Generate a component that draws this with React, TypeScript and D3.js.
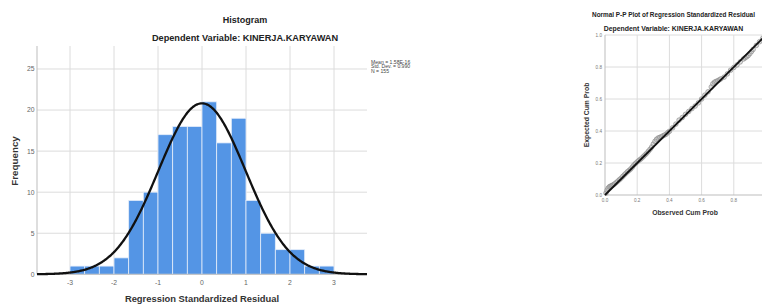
import React from "react";
import * as d3 from "d3";

// ---------- Histogram data ----------
const binStart = -3;
const binWidth = 1 / 3;
const counts = [1, 1, 1, 2, 9, 10, 17, 18, 18, 21, 16, 19, 9, 5, 3, 3, 1, 1];
const meanVal = 1.58e-16;
const sdVal = 0.99;
const nVal = 155;
const histYTicks = [0, 5, 10, 15, 20, 25];
const histXTicks = [-3, -2, -1, 0, 1, 2, 3];
const legendLines = ["Mean = 1.58E-16", "Std. Dev. = 0.990", "N = 155"];

// ---------- P-P plot data ----------
const observed = [
  0.006, 0.013, 0.019, 0.026, 0.032, 0.039, 0.045, 0.052, 0.06, 0.07, 0.08, 0.09, 0.1, 0.11, 0.12, 0.13,
  0.14, 0.15, 0.16, 0.17, 0.18, 0.19, 0.2, 0.21, 0.22, 0.23, 0.24, 0.25, 0.26, 0.27, 0.28, 0.29, 0.3,
  0.31, 0.32, 0.33, 0.34, 0.35, 0.36, 0.37, 0.38, 0.39, 0.4, 0.42, 0.44, 0.46, 0.48, 0.5, 0.52, 0.54,
  0.56, 0.58, 0.6, 0.62, 0.64, 0.66, 0.67, 0.68, 0.69, 0.7, 0.71, 0.72, 0.74, 0.76, 0.78, 0.8, 0.82,
  0.84, 0.86, 0.87, 0.88, 0.89, 0.9, 0.91, 0.92, 0.94, 0.96, 0.98, 0.994,
];
const expected = [
  0.012, 0.03, 0.042, 0.05, 0.054, 0.057, 0.06, 0.064, 0.07, 0.078, 0.087, 0.096, 0.105, 0.116, 0.126, 0.136,
  0.146, 0.154, 0.163, 0.175, 0.188, 0.198, 0.207, 0.216, 0.223, 0.232, 0.242, 0.252, 0.262, 0.274, 0.286, 0.3, 0.318,
  0.335, 0.348, 0.356, 0.36, 0.364, 0.37, 0.375, 0.38, 0.39, 0.398, 0.42, 0.443, 0.468, 0.484, 0.504, 0.522, 0.54,
  0.556, 0.576, 0.6, 0.624, 0.645, 0.675, 0.695, 0.705, 0.71, 0.714, 0.72, 0.726, 0.737, 0.757, 0.78, 0.797, 0.813,
  0.832, 0.85, 0.857, 0.864, 0.872, 0.884, 0.897, 0.91, 0.935, 0.958, 0.98, 0.995,
];
const ppYTicks = [0, 0.2, 0.4, 0.6, 0.8, 1.0];
const ppXTickLabels = [0, 0.2, 0.4, 0.6, 0.8];

const FONT = "'Liberation Sans', Arial, Helvetica, sans-serif";
const BAR = "#5495e5";
const GRID = "#dcdcdc";

export default function App() {
  // Histogram scales
  const hx = d3.scaleLinear().domain([-3.75, 3.75]).range([37, 367]);
  const hy = d3.scaleLinear().domain([0, 27.8]).range([274.3, 46]);

  const normalPdf = (x: number) =>
    (nVal * binWidth) / (sdVal * Math.sqrt(2 * Math.PI)) * Math.exp(-0.5 * ((x - meanVal) / sdVal) ** 2);
  const curveXs = d3.range(-3.75, 3.7501, 0.02);
  const curve = d3
    .line<number>()
    .x((d) => hx(d))
    .y((d) => hy(normalPdf(d)))
    .curve(d3.curveBasis)(curveXs) as string;

  // PP scales
  const px = d3.scaleLinear().domain([0, 1]).range([605, 766]);
  const py = d3.scaleLinear().domain([0, 1]).range([195, 35]);

  return (
    <svg
      width={762}
      height={305}
      style={{ position: "absolute", left: 0, top: 0, display: "block", background: "#fff" }}
      fontFamily={FONT}
    >
      <rect x={0} y={0} width={762} height={305} fill="#fff" />
      {/* ---------- Histogram ---------- */}
      <text x={245} y={23} textAnchor="middle" fontSize={9} fontWeight="bold" fill="#222">
        Histogram
      </text>
      <text x={245} y={41} textAnchor="middle" fontSize={9.2} fontWeight="bold" fill="#222">
        Dependent Variable: KINERJA.KARYAWAN
      </text>

      {/* grid */}
      {histYTicks.filter((t) => t > 0).map((t) => (
        <line key={"hy" + t} x1={hx(-3.75)} x2={hx(3.75)} y1={hy(t)} y2={hy(t)} stroke={GRID} strokeWidth={1} />
      ))}
      {histXTicks.map((t) => (
        <line key={"hx" + t} x1={hx(t)} x2={hx(t)} y1={hy(27.8)} y2={hy(0)} stroke={GRID} strokeWidth={1} />
      ))}

      {/* bars */}
      {counts.map((c, i) => {
        const x0 = binStart + i * binWidth;
        return (
          <rect
            key={"b" + i}
            x={hx(x0)}
            y={hy(c)}
            width={hx(x0 + binWidth) - hx(x0)}
            height={hy(0) - hy(c)}
            fill={BAR}
            stroke="#e6eefa"
            strokeWidth={0.8}
          />
        );
      })}

      {/* axes */}
      <line x1={hx(-3.75)} x2={hx(-3.75)} y1={hy(27.8)} y2={hy(0)} stroke="#bdbdbd" strokeWidth={1} />
      <line x1={hx(-3.75)} x2={hx(3.75)} y1={hy(0)} y2={hy(0)} stroke="#bdbdbd" strokeWidth={1} />

      {/* curve */}
      <path d={curve} fill="none" stroke="#111" strokeWidth={2.3} />

      {/* tick labels */}
      {histYTicks.map((t) => (
        <text key={"hyl" + t} x={34.5} y={hy(t) + 2.4} textAnchor="end" fontSize={6.8} fill="#666">
          {t}
        </text>
      ))}
      {histXTicks.map((t) => (
        <text key={"hxl" + t} x={hx(t)} y={284.5} textAnchor="middle" fontSize={6.8} fill="#666">
          {t}
        </text>
      ))}

      {/* axis titles */}
      <text x={202} y={302} textAnchor="middle" fontSize={9.4} fontWeight="bold" fill="#333">
        Regression Standardized Residual
      </text>
      <text
        transform={`translate(18,${hy(13.8)}) rotate(-90)`}
        textAnchor="middle"
        fontSize={9.8}
        fontWeight="bold"
        fill="#333"
      >
        Frequency
      </text>

      {/* legend */}
      {legendLines.map((l, i) => (
        <text key={"lg" + i} x={371} y={63.5 + i * 4.6} fontSize={5.1} fill="#444">
          {l}
        </text>
      ))}

      {/* ---------- P-P plot ---------- */}
      <text x={673.5} y={17} textAnchor="middle" fontSize={6.4} fontWeight="bold" fill="#222">
        Normal P-P Plot of Regression Standardized Residual
      </text>
      <text x={673.5} y={31} textAnchor="middle" fontSize={6.9} fontWeight="bold" fill="#222">
        Dependent Variable: KINERJA.KARYAWAN
      </text>

      {ppYTicks.filter((t) => t > 0).map((t) => (
        <line key={"ph" + t} x1={px(0)} x2={px(1)} y1={py(t)} y2={py(t)} stroke={GRID} strokeWidth={1} />
      ))}
      {ppYTicks.filter((t) => t > 0).map((t) => (
        <line key={"pv" + t} x1={px(t)} x2={px(t)} y1={py(1)} y2={py(0)} stroke={GRID} strokeWidth={1} />
      ))}
      <line x1={px(0)} x2={px(0)} y1={py(1)} y2={py(0)} stroke="#bdbdbd" strokeWidth={1} />
      <line x1={px(0)} x2={px(1)} y1={py(0)} y2={py(0)} stroke="#bdbdbd" strokeWidth={1} />

      {observed.map((o, i) => (
        <circle
          key={"pt" + i}
          cx={px(o)}
          cy={py(expected[i])}
          r={2.3}
          fill="#b8b8b8"
          fillOpacity={0.45}
          stroke="#8f8f8f"
          strokeWidth={0.7}
        />
      ))}
      <line x1={px(0)} y1={py(0)} x2={px(1)} y2={py(1)} stroke="#111" strokeWidth={1.8} />

      {ppYTicks.map((t) => (
        <text key={"pyl" + t} x={602} y={py(t) + 1.6} textAnchor="end" fontSize={4.6} fill="#777">
          {t.toFixed(1)}
        </text>
      ))}
      {ppXTickLabels.map((t) => (
        <text key={"pxl" + t} x={px(t)} y={201.5} textAnchor="middle" fontSize={4.6} fill="#777">
          {t.toFixed(1)}
        </text>
      ))}
      <text x={685} y={215} textAnchor="middle" fontSize={6.8} fontWeight="bold" fill="#333">
        Observed Cum Prob
      </text>
      <text
        transform={`translate(589,${py(0.5)}) rotate(-90)`}
        textAnchor="middle"
        fontSize={6.8}
        fontWeight="bold"
        fill="#333"
      >
        Expected Cum Prob
      </text>
    </svg>
  );
}
